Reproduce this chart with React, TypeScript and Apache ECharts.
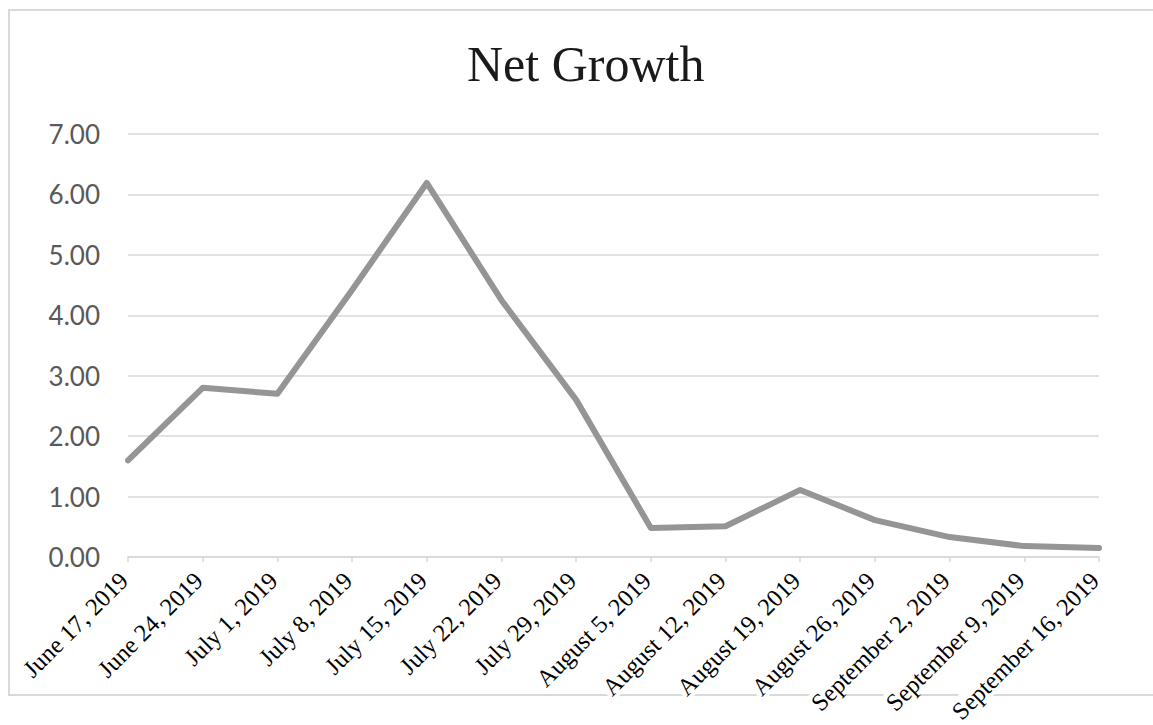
import React, { useEffect, useRef } from "react";
import * as echarts from "echarts";

const categories = [
  "June 17, 2019",
  "June 24, 2019",
  "July 1, 2019",
  "July 8, 2019",
  "July 15, 2019",
  "July 22, 2019",
  "July 29, 2019",
  "August 5, 2019",
  "August 12, 2019",
  "August 19, 2019",
  "August 26, 2019",
  "September 2, 2019",
  "September 9, 2019",
  "September 16, 2019",
];

const netGrowth = [1.6, 2.8, 2.7, 4.42, 6.19, 4.25, 2.6, 0.48, 0.51, 1.11, 0.61, 0.33, 0.18, 0.15];

const yTicks = { min: 0, max: 7, interval: 1 };

export default function App() {
  const ref = useRef<HTMLDivElement>(null);
  useEffect(() => {
    if (!ref.current) return;
    const chart = echarts.init(ref.current, undefined, { renderer: "svg" });
    chart.setOption({
      animation: false,
      backgroundColor: "#ffffff",
      title: {
        text: "Net Growth",
        left: 462,
        top: 34,
        textStyle: {
          fontFamily: "Liberation Serif",
          fontSize: 50,
          fontWeight: "normal",
          color: "#1a1a1a",
        },
      },
      graphic: [
        {
          type: "rect",
          z: -10,
          silent: true,
          shape: { x: 9, y: 10, width: 1150, height: 685 },
          style: { fill: "none", stroke: "#d9d9d9", lineWidth: 2 },
        },
      ],
      grid: {
        left: 128,
        right: 54,
        top: 134,
        bottom: 168,
        outerBoundsMode: "none",
      },
      xAxis: {
        type: "category",
        data: categories,
        boundaryGap: false,
        axisLine: { show: true, lineStyle: { color: "#d9d9d9", width: 1.5 } },
        axisTick: { show: true, length: 5, lineStyle: { color: "#d9d9d9", width: 1.5 } },
        axisLabel: {
          interval: 0,
          rotate: 45,
          margin: 15,
          fontFamily: "Liberation Serif",
          fontSize: 24.5,
          color: "#000000",
          backgroundColor: "#ffffff",
          padding: [0, 6, 0, 2],
        },
        splitLine: { show: false },
      },
      yAxis: {
        type: "value",
        min: yTicks.min,
        max: yTicks.max,
        interval: yTicks.interval,
        axisLine: { show: false },
        axisTick: { show: false },
        axisLabel: {
          margin: 28,
          fontFamily: "Lato",
          fontSize: 26,
          color: "#595959",
          formatter: (v: number) => v.toFixed(2),
        },
        splitLine: { show: true, lineStyle: { color: "#d9d9d9", width: 1.5 } },
      },
      series: [
        {
          type: "line",
          data: netGrowth,
          symbol: "none",
          lineStyle: { color: "#959595", width: 6, cap: "round", join: "round" },
          itemStyle: { color: "#959595" },
        },
      ],
    });
    return () => chart.dispose();
  }, []);
  return (
    <div
      ref={ref}
      style={{ position: "fixed", left: 0, top: 0, width: 1153, height: 725 }}
    />
  );
}
